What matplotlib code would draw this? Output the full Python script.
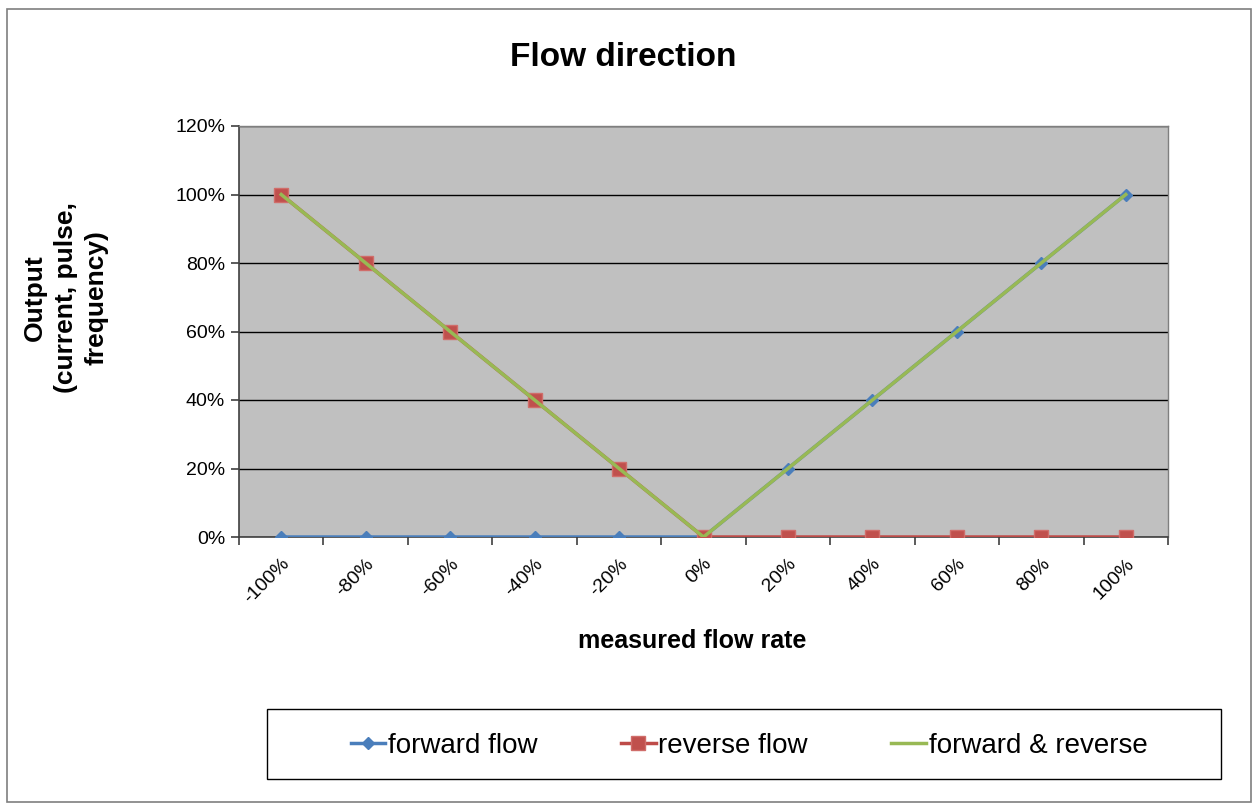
import matplotlib.pyplot as plt
from matplotlib.patches import Rectangle
import numpy as np

plt.rcParams['font.family'] = ['Liberation Sans', 'DejaVu Sans']

categories = ["-100%", "-80%", "-60%", "-40%", "-20%", "0%", "20%", "40%", "60%", "80%", "100%"]
forward_flow = [0, 0, 0, 0, 0, 0, 20, 40, 60, 80, 100]
reverse_flow = [100, 80, 60, 40, 20, 0, 0, 0, 0, 0, 0]
forward_reverse = [100, 80, 60, 40, 20, 0, 20, 40, 60, 80, 100]
y_ticks = [0, 20, 40, 60, 80, 100, 120]

W, H = 1259, 810
fig = plt.figure(figsize=(W / 100, H / 100), dpi=100)


def fig_rect(x0, y0, x1, y1, **kw):
    """Rectangle given in pixel coordinates (origin top-left)."""
    fig.patches.append(Rectangle((x0 / W, 1 - y1 / H), (x1 - x0) / W, (y1 - y0) / H,
                                 transform=fig.transFigure, fill=False, **kw))


# outer chart frame
fig_rect(7, 9, 1251, 802, edgecolor='#7f7f7f', linewidth=1.2)

left, right, top, bottom = 239, 1168, 126, 537
ax = fig.add_axes([left / W, 1 - bottom / H, (right - left) / W, (bottom - top) / H])
ax.set_facecolor('#C0C0C0')

x = np.arange(len(categories))
ax.plot(x, forward_flow, color='#4A7EBB', linewidth=2.5, marker='D', markersize=6.5,
        markerfacecolor='#4A7EBB', markeredgecolor='#4A7EBB', label='forward flow', zorder=3)
ax.plot(x, reverse_flow, color='#BE4B48', linewidth=2.5, marker='s', markersize=9.5,
        markerfacecolor='#C0504D', markeredgecolor='#D06D6A', label='reverse flow', zorder=4)
ax.plot(x, forward_reverse, color='#98B954', linewidth=2.5, label='forward & reverse', zorder=5)

ax.set_xlim(-0.5, len(categories) - 0.5)
ax.set_ylim(0, 120)
ax.set_yticks(y_ticks)
ax.set_yticklabels([f"{v}%" for v in y_ticks], fontsize=14)
ax.yaxis.grid(True, color='black', linewidth=1)
ax.set_axisbelow(True)

ax.set_xticks(x)
ax.set_xticklabels(categories, fontsize=14, rotation=45, ha='right', va='top',
                   rotation_mode='anchor')
ax.set_xticks(np.arange(-0.5, len(categories)), minor=True)
ax.tick_params(axis='x', which='major', length=0, pad=13)
ax.tick_params(axis='x', which='minor', length=6, color='#404040', width=1.2)
ax.tick_params(axis='y', length=6, color='#404040', width=1.2, pad=4)

for side in ('left', 'bottom'):
    ax.spines[side].set_color('#404040')
    ax.spines[side].set_linewidth(1.2)
for side in ('right', 'top'):
    ax.spines[side].set_color('#7f7f7f')
    ax.spines[side].set_linewidth(1.0)

fig.text(623 / W, 1 - 58 / H, 'Flow direction', fontsize=24, fontweight='bold',
         ha='center', va='center')
fig.text(692 / W, 1 - 641 / H, 'measured flow rate', fontsize=18, fontweight='bold',
         ha='center', va='center')
fig.text(66 / W, 1 - 298 / H, 'Output\n(current, pulse,\nfrequency)', fontsize=19,
         fontweight='bold', ha='center', va='center', rotation=90, linespacing=1.35,
         multialignment='center')

# legend with its own frame
fig_rect(267, 709, 1221, 779, edgecolor='black', linewidth=1.0)
leg = fig.legend(loc='center', bbox_to_anchor=(749 / W, 1 - 746 / H),
                 ncol=3, fontsize=20, frameon=False, handlelength=1.25,
                 handletextpad=0.1, columnspacing=3.0)

fig.savefig('out.png', dpi=100)
